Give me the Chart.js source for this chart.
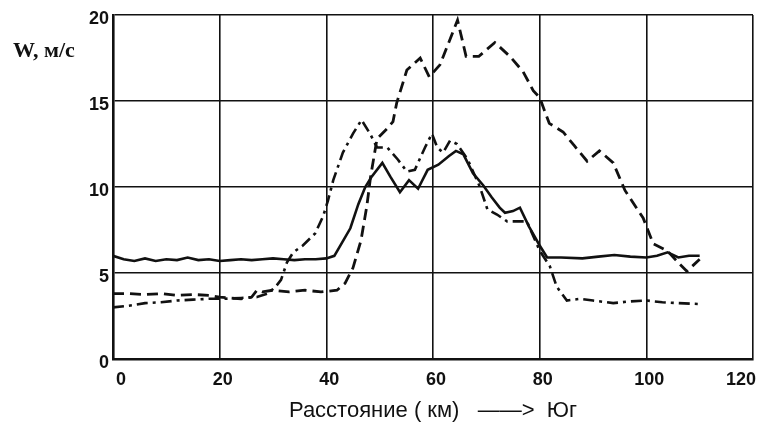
<!DOCTYPE html>
<html>
<head>
<meta charset="utf-8">
<script src="https://cdn.jsdelivr.net/npm/chart.js@4/dist/chart.umd.min.js"></script>
<style>
  html, body { margin: 0; padding: 0; background: #fff; }
  #wrap { width: 767px; height: 425px; position: relative; }
</style>
</head>
<body>
<div id="wrap"><canvas id="canvas"></canvas></div>
<script>
// distance, km / wind speed, m/s
const solidX = [0, 2, 4, 6, 8, 10, 12, 14, 16, 18, 20, 22, 24, 26, 28, 30, 32, 34, 36, 38, 40, 41.5, 43, 44.5, 46, 47.3, 48.5, 50.5, 52, 53.8, 55.5, 57.2, 59, 61, 63, 64.3, 65.7, 67.5, 69.4, 71, 72.5, 73.5, 75, 76.3, 78, 80, 81.4, 84, 88, 91, 94, 97, 100, 102, 104, 106, 108, 110];
const solidY = [6.0, 5.8, 5.7, 5.85, 5.7, 5.8, 5.75, 5.9, 5.75, 5.8, 5.7, 5.75, 5.8, 5.75, 5.8, 5.85, 5.8, 5.75, 5.8, 5.8, 5.85, 6.0, 6.8, 7.6, 9.0, 10.0, 10.6, 11.4, 10.6, 9.7, 10.4, 9.9, 11.0, 11.3, 11.8, 12.1, 11.9, 10.8, 10.1, 9.4, 8.8, 8.5, 8.6, 8.8, 7.7, 6.6, 5.9, 5.9, 5.85, 5.95, 6.05, 5.95, 5.9, 6.0, 6.2, 5.9, 6.0, 6.0];

const dashX = [0, 3, 6, 9, 12, 15, 18, 20, 22, 24, 26, 27, 28, 30, 33, 36, 39, 42, 43.5, 45, 46.5, 47.6, 48.3, 49.5, 51.4, 52.5, 53.2, 55.1, 57.6, 59.3, 61.3, 64.6, 66.2, 68.6, 71.6, 74.4, 76.9, 78.8, 80, 81.8, 84.4, 86.5, 88.9, 91.2, 93.8, 96, 99.4, 101.3, 103.9, 106.3, 107.6, 110];
const dashY = [3.8, 3.8, 3.75, 3.8, 3.7, 3.75, 3.7, 3.6, 3.55, 3.5, 3.6, 4.0, 3.9, 4.0, 3.9, 4.0, 3.9, 4.0, 4.4, 5.3, 6.9, 8.9, 10.6, 12.8, 13.4, 13.8, 14.9, 16.8, 17.5, 16.4, 17.1, 19.7, 17.6, 17.6, 18.4, 17.6, 16.7, 15.6, 15.2, 13.7, 13.2, 12.4, 11.5, 12.1, 11.4, 9.8, 8.2, 6.7, 6.3, 5.5, 5.1, 5.8];

const dotX = [0, 3, 6, 9, 12, 15, 18, 21, 24, 27, 29, 30.5, 31.5, 32.6, 33.8, 35.6, 37.9, 39.4, 40.3, 41.3, 43.1, 45, 46.6, 48.2, 49.5, 51.4, 53.4, 55.1, 56.6, 58.5, 59.8, 60.8, 61.9, 63.2, 64.5, 66.5, 68.8, 70.2, 72, 73.9, 77.6, 80, 81.9, 83.2, 85.1, 87.6, 90, 93.8, 97, 100, 103, 106, 109.7];
const dotY = [3.0, 3.1, 3.25, 3.3, 3.4, 3.45, 3.5, 3.5, 3.55, 3.6, 3.8, 4.2, 4.6, 5.6, 6.2, 6.6, 7.3, 8.3, 9.2, 10.4, 12.0, 13.1, 13.9, 13.1, 12.3, 12.3, 11.6, 10.9, 11.0, 12.3, 13.1, 12.3, 12.0, 12.7, 12.5, 11.6, 10.0, 8.7, 8.4, 8.0, 8.0, 6.3, 5.4, 4.2, 3.4, 3.5, 3.4, 3.25, 3.35, 3.4, 3.3, 3.25, 3.2];

const xTicks = [0, 20, 40, 60, 80, 100, 120];
const yTicks = [0, 5, 10, 15, 20];

const yLabel = 'W, м/с';
const xLabel = 'Расстояние ( км)   ——>  Юг';

const pts = (xs, ys) => xs.map((x, i) => ({ x: x, y: ys[i] }));
const ink = '#111';

// axis caption in the upper left corner
const cornerLabel = {
  id: 'cornerLabel',
  afterDraw(chart) {
    const ctx = chart.ctx;
    ctx.save();
    ctx.fillStyle = ink;
    ctx.font = 'bold 22px "Liberation Serif"';
    ctx.textBaseline = 'middle';
    ctx.fillText(yLabel, 13, 51);
    ctx.restore();
  }
};

new Chart(document.getElementById('canvas'), {
  type: 'line',
  data: {
    datasets: [
      { data: pts(solidX, solidY), borderColor: ink, borderWidth: 2.6 },
      { data: pts(dashX, dashY), borderColor: ink, borderWidth: 2.8, borderDash: [11, 6] },
      { data: pts(dotX, dotY), borderColor: ink, borderWidth: 2.6, borderDash: [11, 5, 3, 5] }
    ]
  },
  options: {
    responsive: true,
    maintainAspectRatio: false,
    animation: false,
    layout: { padding: { left: 0, right: 14, top: 15, bottom: 0 } },
    elements: { point: { radius: 0 }, line: { tension: 0, fill: false } },
    plugins: { legend: { display: false }, tooltip: { enabled: false } },
    scales: {
      x: {
        type: 'linear',
        min: 0, max: 120,
        afterBuildTicks: s => { s.ticks = xTicks.map(v => ({ value: v })); },
        afterFit: s => { s.height = 66; s.paddingLeft = 0; s.paddingRight = 0; },
        grid: { color: ink, lineWidth: 1.6, drawTicks: false },
        border: { color: ink, width: 2.6 },
        ticks: { color: ink, padding: 10, labelOffset: 3, align: 'inner', maxRotation: 0,
                 font: { family: '"Liberation Sans"', size: 18, weight: 'bold' } },
        title: { display: true, text: xLabel, color: ink, padding: { top: 0, bottom: 1 },
                 font: { family: '"Liberation Sans"', size: 22 } }
      },
      y: {
        min: 0, max: 20,
        afterBuildTicks: s => { s.ticks = yTicks.map(v => ({ value: v })); },
        afterFit: s => { s.width = 113; s.paddingTop = 0; s.paddingBottom = 0; },
        grid: { color: ink, lineWidth: 1.6, drawTicks: false },
        border: { color: ink, width: 2.6 },
        ticks: { color: ink, padding: 4, labelOffset: 4,
                 font: { family: '"Liberation Sans"', size: 18, weight: 'bold' } }
      }
    }
  },
  plugins: [cornerLabel]
});
</script>
</body>
</html>
